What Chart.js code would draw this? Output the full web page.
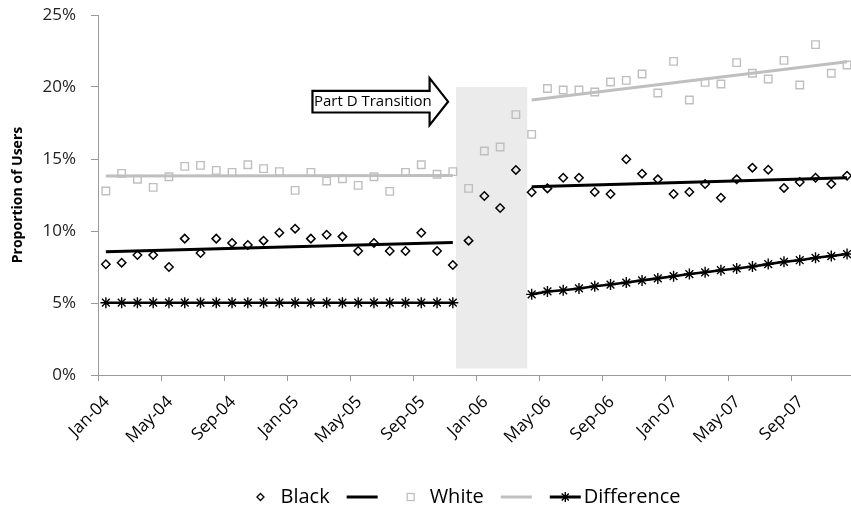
<!DOCTYPE html>
<html>
<head>
<meta charset="utf-8">
<script src="https://cdn.jsdelivr.net/npm/chart.js@4.4.1/dist/chart.umd.min.js"></script>
<style>
  html, body { margin: 0; padding: 0; background: #fff; overflow: hidden; }
  canvas { display: block; }
</style>
</head>
<body>
<canvas id="chart" width="851" height="513"></canvas>
<script>
// Monthly categories, Jan 2004 – Dec 2007
const months = [
  'Jan-04','Feb-04','Mar-04','Apr-04','May-04','Jun-04','Jul-04','Aug-04','Sep-04','Oct-04','Nov-04','Dec-04',
  'Jan-05','Feb-05','Mar-05','Apr-05','May-05','Jun-05','Jul-05','Aug-05','Sep-05','Oct-05','Nov-05','Dec-05',
  'Jan-06','Feb-06','Mar-06','Apr-06','May-06','Jun-06','Jul-06','Aug-06','Sep-06','Oct-06','Nov-06','Dec-06',
  'Jan-07','Feb-07','Mar-07','Apr-07','May-07','Jun-07','Jul-07','Aug-07','Sep-07','Oct-07','Nov-07','Dec-07'
];

// Proportion of users (%) by month
const black = [
  7.69, 7.80, 8.33, 8.33, 7.50, 9.47, 8.47, 9.47, 9.17, 9.03, 9.33, 9.88,
  10.16, 9.47, 9.74, 9.61, 8.61, 9.17, 8.61, 8.61, 9.88, 8.61, 7.64, 9.33,
  12.43, 11.60, 14.24, 12.69, 12.96, 13.70, 13.70, 12.71, 12.57, 14.98, 13.98, 13.59,
  12.57, 12.71, 13.26, 12.31, 13.59, 14.40, 14.26, 12.99, 13.40, 13.70, 13.26, 13.84
];
const white = [
  12.78, 14.00, 13.59, 13.03, 13.77, 14.49, 14.56, 14.21, 14.07, 14.60, 14.33, 14.12,
  12.82, 14.07, 13.47, 13.63, 13.17, 13.77, 12.75, 14.07, 14.60, 13.94, 14.12, 12.96,
  15.56, 15.83, 18.08, 16.71, 19.90, 19.79, 19.79, 19.65, 20.35, 20.46, 20.90, 19.58,
  21.78, 19.10, 20.32, 20.21, 21.69, 20.95, 20.56, 21.85, 20.14, 22.94, 20.95, 21.53
];
const difference = [
  5.02, 5.02, 5.02, 5.02, 5.02, 5.02, 5.02, 5.02, 5.02, 5.02, 5.02, 5.02,
  5.02, 5.02, 5.02, 5.02, 5.02, 5.02, 5.02, 5.02, 5.02, 5.02, 5.02, null,
  null, null, null, 5.60, 5.80, 5.88, 6.01, 6.16, 6.28, 6.42, 6.57, 6.71,
  6.86, 7.01, 7.13, 7.28, 7.40, 7.53, 7.70, 7.86, 7.97, 8.14, 8.26, 8.40
];

// Linear trend endpoints before and after the transition window
const trendMonthsBefore = [0, 22];
const trendMonthsAfter = [27, 47];
const blackTrendBefore = [8.56, 9.21];
const blackTrendAfter = [13.08, 13.70];
const whiteTrendBefore = [13.82, 13.85];
const whiteTrendAfter = [19.10, 21.76];

// Part D transition window (month positions) and its value range (%)
const transitionMonths = [22.7, 27.22];
const transitionRange = [0.45, 20];
const arrowLabel = 'Part D Transition';

const FONT = "'Open Sans', 'Noto Sans', 'DejaVu Sans', sans-serif";
const GREY = '#bfbfbf';
const AXIS = '#9a9a9a';

// points sit in the middle of each month
const points = arr => arr.map((v, i) => ({ x: i + 0.5, y: v }));
const trend = (before, after) => [
  { x: trendMonthsBefore[0] + 0.5, y: before[0] },
  { x: trendMonthsBefore[1] + 0.5, y: before[1] },
  { x: (trendMonthsBefore[1] + trendMonthsAfter[0]) / 2 + 0.5, y: null },
  { x: trendMonthsAfter[0] + 0.5, y: after[0] },
  { x: trendMonthsAfter[1] + 0.5, y: after[1] }
];

// Grey band + arrow callout for the transition window
const transitionPlugin = {
  id: 'transition',
  beforeDatasetsDraw(chart) {
    const { ctx, scales: { x, y } } = chart;
    const x0 = x.getPixelForValue(transitionMonths[0]);
    const x1 = x.getPixelForValue(transitionMonths[1]);
    const y0 = y.getPixelForValue(transitionRange[1]);
    const y1 = y.getPixelForValue(transitionRange[0]);
    ctx.save();
    ctx.fillStyle = '#ebebeb';
    ctx.fillRect(x0, y0, x1 - x0, y1 - y0);
    ctx.restore();
  },
  afterDatasetsDraw(chart) {
    const { ctx, scales: { x, y } } = chart;
    const left = x.getPixelForValue(13.6);
    const tip = x.getPixelForValue(22.2);
    const cy = y.getPixelForValue(18.98);
    const headLen = 18.5, bodyHalf = 10.8, headHalf = 23.5;
    const neck = tip - headLen;
    ctx.save();
    ctx.beginPath();
    ctx.moveTo(left, cy - bodyHalf);
    ctx.lineTo(neck, cy - bodyHalf);
    ctx.lineTo(neck, cy - headHalf);
    ctx.lineTo(tip, cy);
    ctx.lineTo(neck, cy + headHalf);
    ctx.lineTo(neck, cy + bodyHalf);
    ctx.lineTo(left, cy + bodyHalf);
    ctx.closePath();
    ctx.fillStyle = '#fff';
    ctx.fill();
    ctx.lineWidth = 2.2;
    ctx.strokeStyle = '#000';
    ctx.lineJoin = 'miter';
    ctx.stroke();
    ctx.fillStyle = '#000';
    ctx.font = `15px ${FONT}`;
    ctx.textBaseline = 'middle';
    ctx.textAlign = 'left';
    ctx.fillText(arrowLabel, left + 1.5, cy + 0.5);
    ctx.restore();
  }
};

// Legend row: marker / trend line / line-with-marker entries
const legendPlugin = {
  id: 'rowLegend',
  afterDraw(chart) {
    const { ctx, chartArea } = chart;
    const cy = 497;
    ctx.save();
    ctx.font = `20px ${FONT}`;
    const items = [
      { kind: 'diamond', w: 8, gap: 16 },
      { kind: 'text', text: 'Black', gap: 17 },
      { kind: 'line', color: '#000', w: 31, gap: 29 },
      { kind: 'square', w: 8, gap: 15 },
      { kind: 'text', text: 'White', gap: 17 },
      { kind: 'line', color: GREY, w: 31, gap: 18 },
      { kind: 'lineStar', w: 31, gap: 3 },
      { kind: 'text', text: 'Difference', gap: 0 }
    ];
    items.forEach(it => { if (it.kind === 'text') it.w = ctx.measureText(it.text).width; });
    const total = items.reduce((s, it) => s + it.w + it.gap, 0);
    let x = (chartArea.left + chartArea.right) / 2 - total / 2 - 6;
    items.forEach(it => {
      const mid = x + it.w / 2;
      if (it.kind === 'diamond') {
        ctx.beginPath();
        ctx.moveTo(mid, cy - 3.5); ctx.lineTo(mid + 3.5, cy);
        ctx.lineTo(mid, cy + 3.5); ctx.lineTo(mid - 3.5, cy);
        ctx.closePath();
        ctx.lineWidth = 1.3; ctx.strokeStyle = '#000'; ctx.stroke();
      } else if (it.kind === 'square') {
        ctx.lineWidth = 1.3; ctx.strokeStyle = GREY;
        ctx.strokeRect(mid - 3.5, cy - 3.5, 7, 7);
      } else if (it.kind === 'line' || it.kind === 'lineStar') {
        ctx.beginPath();
        ctx.moveTo(x, cy); ctx.lineTo(x + it.w, cy);
        ctx.lineWidth = 3; ctx.strokeStyle = it.color || '#000'; ctx.stroke();
        if (it.kind === 'lineStar') {
          ctx.lineWidth = 1.4;
          ctx.beginPath();
          const r = 5;
          for (let k = 0; k < 4; k++) {
            const a = k * Math.PI / 4;
            ctx.moveTo(mid - r * Math.cos(a), cy - r * Math.sin(a));
            ctx.lineTo(mid + r * Math.cos(a), cy + r * Math.sin(a));
          }
          ctx.stroke();
        }
      } else {
        ctx.fillStyle = '#000';
        ctx.textBaseline = 'middle';
        ctx.textAlign = 'left';
        ctx.fillText(it.text, x, cy);
      }
      x += it.w + it.gap;
    });
    ctx.restore();
  }
};

new Chart(document.getElementById('chart'), {
  type: 'line',
  data: {
    datasets: [
      {
        label: 'Black',
        data: points(black),
        showLine: false,
        pointStyle: 'rectRot',
        pointRadius: 4.2,
        pointBorderWidth: 1.5,
        pointBorderColor: '#000',
        pointBackgroundColor: 'rgba(0,0,0,0)'
      },
      {
        label: '',
        data: trend(blackTrendBefore, blackTrendAfter),
        borderColor: '#000',
        borderWidth: 3,
        pointRadius: 0,
        spanGaps: false
      },
      {
        label: 'White',
        data: points(white),
        showLine: false,
        pointStyle: 'rect',
        pointRadius: 5.3,
        pointBorderWidth: 1.4,
        pointBorderColor: GREY,
        pointBackgroundColor: 'rgba(0,0,0,0)'
      },
      {
        label: '',
        data: trend(whiteTrendBefore, whiteTrendAfter),
        borderColor: GREY,
        borderWidth: 3,
        pointRadius: 0,
        spanGaps: false
      },
      {
        label: 'Difference',
        data: points(difference),
        borderColor: '#000',
        borderWidth: 2.6,
        pointStyle: 'star',
        pointRadius: 5.5,
        pointBorderWidth: 1.4,
        pointBorderColor: '#000',
        spanGaps: false
      }
    ]
  },
  options: {
    responsive: false,
    animation: false,
    events: [],
    layout: { autoPadding: false, padding: { left: 0, right: 0, top: 15, bottom: 0 } },
    elements: { line: { tension: 0 } },
    plugins: {
      legend: { display: false },
      tooltip: { enabled: false }
    },
    scales: {
      x: {
        type: 'linear',
        min: 0,
        max: 47.75,
        afterBuildTicks: s => { s.ticks = s.ticks.filter(t => t.value % 4 === 0); },
        afterFit: s => { s.height = 138; s.paddingLeft = 0; s.paddingRight = 0; },
        ticks: {
          stepSize: 4,
          autoSkip: false,
          minRotation: 45,
          maxRotation: 45,
          padding: 11,
          labelOffset: 9,
          color: '#000',
          font: { family: FONT, size: 17 },
          callback: v => months[v] ?? ''
        },
        grid: { drawOnChartArea: false, drawTicks: true, tickLength: 6, color: AXIS },
        border: { color: AXIS, width: 1 }
      },
      y: {
        min: 0,
        max: 25,
        afterFit: s => { s.width = 98; s.paddingTop = 0; s.paddingBottom = 0; },
        ticks: {
          stepSize: 5,
          padding: 15,
          color: '#222',
          font: { family: FONT, size: 17 },
          callback: v => v + '%'
        },
        grid: { drawOnChartArea: false, drawTicks: true, tickLength: 7, color: AXIS },
        border: { color: AXIS, width: 1 },
        title: {
          display: true,
          text: 'Proportion of Users',
          color: '#000',
          font: { family: FONT, size: 14, weight: 'bold' },
          padding: { top: 10, bottom: 0 }
        }
      }
    }
  },
  plugins: [transitionPlugin, legendPlugin]
});
</script>
</body>
</html>
